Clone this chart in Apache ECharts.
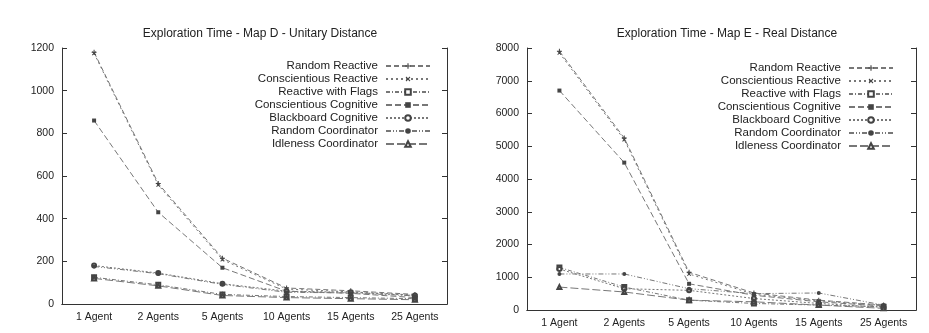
<!DOCTYPE html>
<html>
<head>
<meta charset="utf-8">
<script src="https://cdn.jsdelivr.net/npm/echarts@6/dist/echarts.min.js"></script>
<style>
  html, body { margin: 0; padding: 0; background: #fff; }
  #chart { width: 929px; height: 333px; }
</style>
</head>
<body>
<div id="chart"></div>
<script>
const categories = ['1 Agent', '2 Agents', '5 Agents', '10 Agents', '15 Agents', '25 Agents']
const seriesNames = [
    'Random Reactive',
    'Conscientious Reactive',
    'Reactive with Flags',
    'Conscientious Cognitive',
    'Blackboard Cognitive',
    'Random Coordinator',
    'Idleness Coordinator',
]

// Map D - unitary distance
const mapD = [
    [1180, 565, 215, 75, 62, 45],
    [1175, 558, 208, 70, 57, 42],
    [125, 90, 45, 35, 30, 25],
    [860, 430, 170, 60, 50, 30],
    [180, 145, 95, 60, 55, 40],
    [176, 142, 92, 55, 52, 38],
    [120, 85, 40, 30, 25, 20],
]

// Map E - real distance
const mapE = [
    [7900, 5250, 1150, 520, 300, 150],
    [7850, 5200, 1100, 480, 280, 140],
    [1300, 700, 300, 200, 150, 100],
    [6700, 4500, 800, 450, 250, 120],
    [1250, 650, 600, 350, 200, 80],
    [1100, 1100, 650, 500, 520, 150],
    [700, 550, 300, 250, 150, 50],
]

const PLUS = 'path://M4,0h2v4h4v2h-4v4h-2v-4h-4v-2h4z'
const markers = [
    { symbol: PLUS, rotate: 0, size: 5 },
    { symbol: PLUS, rotate: 45, size: 5 },
    { symbol: 'emptyRect', rotate: 0, size: 4 },
    { symbol: 'rect', rotate: 0, size: 4 },
    { symbol: 'emptyCircle', rotate: 0, size: 4 },
    { symbol: 'circle', rotate: 0, size: 4 },
    { symbol: 'emptyTriangle', rotate: 0, size: 4 },
]
const dashes = [[5, 3], [2, 3], [4, 2, 1, 2], [6, 3], [2, 2], [5, 2, 1, 2, 1, 2], [8, 3]]

const FONT = 'Liberation Sans, Arial, sans-serif'
const INK = '#222'

function axesFor(gridIndex, max, interval) {
    const frame = { show: true, lineStyle: { color: '#333', width: 1 } }
    const ticks = { inside: true, alignWithLabel: true, length: 5, lineStyle: { color: '#333' } }
    const xs = [
        {
            type: 'category', gridIndex, data: categories, position: 'bottom',
            axisLine: frame, axisTick: ticks,
            axisLabel: { color: INK, fontSize: 10.5, fontFamily: FONT, margin: 8 },
            splitLine: { show: false },
        },
        {
            type: 'category', gridIndex, data: categories, position: 'top',
            axisLine: frame, axisTick: ticks,
            axisLabel: { show: false },
            splitLine: { show: false },
        },
    ]
    const ys = [
        {
            type: 'value', gridIndex, min: 0, max, interval, position: 'left',
            axisLine: frame,
            axisTick: { show: true, inside: true, length: 5, lineStyle: { color: '#333' } },
            axisLabel: { color: INK, fontSize: 10.5, fontFamily: FONT, margin: 8, formatter: v => String(v) },
            splitLine: { show: false },
        },
        {
            type: 'value', gridIndex, min: 0, max, interval, position: 'right',
            axisLine: frame,
            axisTick: { show: true, inside: true, length: 5, lineStyle: { color: '#333' } },
            axisLabel: { show: false },
            splitLine: { show: false },
        },
    ]
    return { xs, ys }
}

function seriesFor(values, xAxisIndex, yAxisIndex) {
    return values.map((data, i) => ({
        name: seriesNames[i],
        type: 'line',
        xAxisIndex, yAxisIndex,
        data,
        symbol: markers[i].symbol,
        symbolRotate: markers[i].rotate,
        symbolSize: markers[i].size,
        showAllSymbol: true,
        itemStyle: { color: '#444' },
        lineStyle: { color: '#777', width: 1, type: dashes[i] },
        animation: false,
    }))
}

const left = axesFor(0, 1200, 200)
const right = axesFor(1, 8000, 1000)

const legendBase = {
    orient: 'vertical', align: 'right',
    itemWidth: 44, itemHeight: 7, itemGap: 1,
    textStyle: { color: INK, fontSize: 11.5, fontFamily: FONT, padding: [0, 3, 0, 0] },
    data: seriesNames,
    selectedMode: false,
}

const chart = echarts.init(document.getElementById('chart'), null, { renderer: 'canvas' })
chart.setOption({
    backgroundColor: '#fff',
    animation: false,
    title: [
        {
            text: 'Exploration Time - Map D - Unitary Distance',
            left: 255, top: 23, textAlign: 'center',
            textStyle: { color: INK, fontSize: 12, fontWeight: 'normal', fontFamily: FONT },
        },
        {
            text: 'Exploration Time - Map E - Real Distance',
            left: 722, top: 23, textAlign: 'center',
            textStyle: { color: INK, fontSize: 12, fontWeight: 'normal', fontFamily: FONT },
        },
    ],
    grid: [
        { left: 62, top: 48, width: 385, height: 256 },
        { left: 527, top: 48, width: 389, height: 262 },
    ],
    xAxis: [...left.xs, ...right.xs],
    yAxis: [...left.ys, ...right.ys],
    legend: [
        { ...legendBase, right: 493, top: 55 },
        { ...legendBase, right: 30, top: 57 },
    ],
    series: [...seriesFor(mapD, 0, 0), ...seriesFor(mapE, 2, 2)],
})
</script>
</body>
</html>
